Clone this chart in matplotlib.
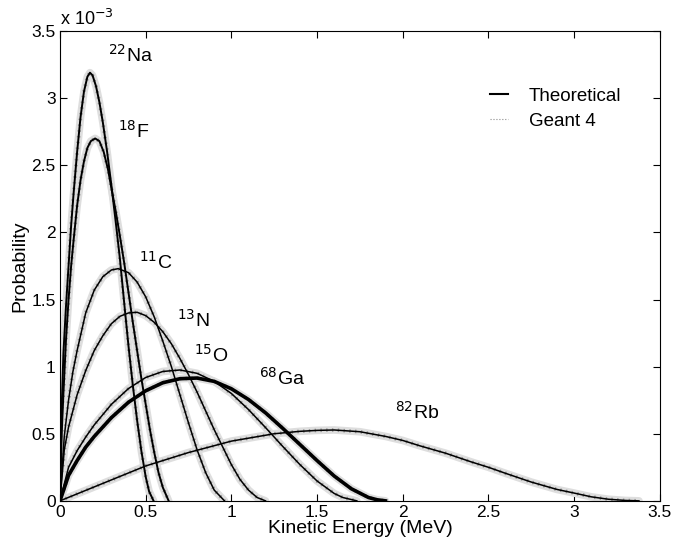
import numpy as np
import matplotlib.pyplot as plt

plt.rcParams['font.family'] = ['Liberation Sans', 'DejaVu Sans']

# kinetic energy (MeV) and probability (x 1e-3)
na22_e = [0, 0.01, 0.02, 0.035, 0.05, 0.065, 0.08, 0.1, 0.12, 0.14, 0.16, 0.175, 0.19, 0.21,
          0.23, 0.25, 0.275, 0.3, 0.325, 0.35, 0.375, 0.4, 0.425, 0.45, 0.475, 0.5, 0.52, 0.546]
na22_p = [0, 0.7, 1.1, 1.45, 1.75, 2.05, 2.3, 2.6, 2.86, 3.05, 3.16, 3.19, 3.17, 3.09,
          2.97, 2.82, 2.6, 2.35, 2.08, 1.8, 1.47, 1.15, 0.86, 0.6, 0.37, 0.18, 0.07, 0]

f18_e = [0, 0.01, 0.02, 0.035, 0.05, 0.065, 0.08, 0.1, 0.12, 0.14, 0.16, 0.18, 0.205, 0.23,
         0.255, 0.28, 0.3, 0.325, 0.35, 0.375, 0.4, 0.425, 0.45, 0.475, 0.5, 0.525, 0.55,
         0.575, 0.6, 0.634]
f18_p = [0, 0.5, 0.8, 1.2, 1.5, 1.75, 1.95, 2.2, 2.39, 2.53, 2.63, 2.68, 2.70, 2.68,
         2.6, 2.47, 2.33, 2.16, 1.97, 1.77, 1.55, 1.33, 1.12, 0.91, 0.72, 0.53, 0.36,
         0.21, 0.1, 0]

c11_e = [0, 0.025, 0.05, 0.075, 0.1, 0.15, 0.2, 0.25, 0.3, 0.34, 0.4, 0.45, 0.5, 0.55,
         0.6, 0.65, 0.7, 0.75, 0.8, 0.85, 0.9, 0.96]
c11_p = [0, 0.48, 0.75, 0.96, 1.12, 1.40, 1.57, 1.67, 1.72, 1.73, 1.70, 1.63, 1.52, 1.37,
         1.19, 1.0, 0.79, 0.58, 0.38, 0.21, 0.08, 0]

n13_e = [0, 0.025, 0.05, 0.1, 0.15, 0.2, 0.25, 0.3, 0.35, 0.4, 0.45, 0.5, 0.55, 0.6, 0.65,
         0.7, 0.75, 0.8, 0.85, 0.9, 0.95, 1.0, 1.05, 1.1, 1.15, 1.199]
n13_p = [0, 0.38, 0.55, 0.79, 0.97, 1.12, 1.23, 1.32, 1.375, 1.40, 1.405, 1.38, 1.33, 1.26,
         1.17, 1.06, 0.94, 0.81, 0.67, 0.53, 0.40, 0.27, 0.16, 0.08, 0.025, 0]

o15_e = [0, 0.05, 0.1, 0.15, 0.2, 0.3, 0.4, 0.5, 0.6, 0.7, 0.8, 0.9, 1.0, 1.1, 1.2, 1.3,
         1.4, 1.5, 1.6, 1.65, 1.732]
o15_p = [0, 0.25, 0.374, 0.475, 0.566, 0.719, 0.837, 0.919, 0.964, 0.975, 0.950, 0.89,
         0.80, 0.68, 0.545, 0.405, 0.27, 0.148, 0.055, 0.025, 0]

ga68_e = [0, 0.05, 0.1, 0.15, 0.2, 0.3, 0.4, 0.5, 0.6, 0.7, 0.8, 0.9, 1.0, 1.1, 1.2, 1.3,
          1.4, 1.5, 1.6, 1.7, 1.8, 1.85, 1.899]
ga68_p = [0, 0.19, 0.30, 0.40, 0.48, 0.62, 0.735, 0.82, 0.88, 0.91, 0.915, 0.89, 0.835,
          0.755, 0.655, 0.54, 0.42, 0.30, 0.185, 0.09, 0.025, 0.008, 0]

rb82_e = [0, 0.25, 0.5, 0.75, 1.0, 1.25, 1.4, 1.5, 1.6, 1.75, 1.9, 2.0, 2.1, 2.25, 2.4,
          2.5, 2.6, 2.75, 2.9, 3.0, 3.1, 3.2, 3.3, 3.378]
rb82_p = [0, 0.13, 0.26, 0.36, 0.445, 0.50, 0.518, 0.525, 0.528, 0.515, 0.48, 0.45, 0.41,
          0.355, 0.29, 0.25, 0.205, 0.14, 0.085, 0.058, 0.03, 0.012, 0.003, 0]

labels = ['$^{22}$Na', '$^{18}$F', '$^{11}$C', '$^{13}$N', '$^{15}$O', '$^{68}$Ga', '$^{82}$Rb']
label_x = [0.28, 0.34, 0.46, 0.68, 0.78, 1.16, 1.955]
label_y = [3.32, 2.76, 1.78, 1.35, 1.09, 0.92, 0.665]

curves = [(na22_e, na22_p), (f18_e, f18_p), (c11_e, c11_p), (n13_e, n13_p),
          (o15_e, o15_p), (ga68_e, ga68_p), (rb82_e, rb82_p)]
widths = [1.4, 1.4, 1.1, 1.1, 1.1, 2.6, 1.1]

fig = plt.figure(figsize=(6.74, 5.45), dpi=100)
ax = fig.add_axes([0.089, 0.081, 0.890, 0.862])

# Geant 4 (light gray halo around each curve)
for e, p in curves:
    ax.plot(e, p, color='0.87', lw=5.5, solid_capstyle='round')
    ax.plot(e, p, color='0.6', lw=2.6, ls=(0, (0.4, 1.2)))
# theoretical curves
for (e, p), w in zip(curves, widths):
    ax.plot(e, p, color='black', lw=w, solid_joinstyle='round')

for s, x, y in zip(labels, label_x, label_y):
    ax.text(x, y, s, fontsize=14, ha='left', va='center')

ax.plot([], [], color='black', lw=1.5, label='Theoretical')
ax.plot([], [], color='0.55', lw=0.8, ls=':', label='Geant 4')
ax.legend(loc='upper left', bbox_to_anchor=(0.688, 0.915), frameon=False,
          fontsize=13.5, handlelength=1.0, handletextpad=1.1, labelspacing=0.4)

ticks = np.arange(0, 3.51, 0.5)
ax.set_xlim(0, 3.5)
ax.set_ylim(0, 3.5)
ax.set_xticks(ticks)
ax.set_yticks(ticks)
ax.set_xticklabels(['%g' % v for v in ticks])
ax.set_yticklabels(['%g' % v for v in ticks])
ax.tick_params(direction='in', top=True, right=True, labelsize=12.5, length=5, pad=3)
ax.set_xlabel('Kinetic Energy (MeV)', fontsize=14, labelpad=0)
ax.set_ylabel('Probability', fontsize=14, labelpad=2)
ax.text(0.0, 1.004, 'x 10$^{-3}$', transform=ax.transAxes, fontsize=13, ha='left', va='bottom')

fig.savefig('out.png', dpi=100)
